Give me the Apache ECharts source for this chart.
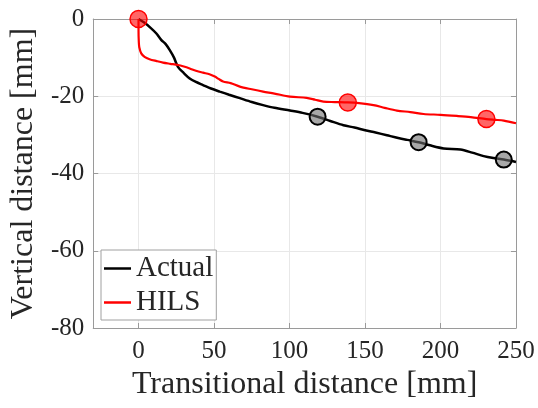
<!DOCTYPE html>
<html>
<head>
<meta charset="utf-8">
<script src="https://cdn.jsdelivr.net/npm/echarts@6/dist/echarts.min.js"></script>
<style>html,body{margin:0;padding:0;background:#fff}#c{width:538px;height:408px}</style>
</head>
<body>
<div id="c"></div>
<script>
var actualX = [0, 4, 8, 11.7, 15, 18, 20.6, 23.5, 26.1, 30, 33.9, 38, 42.7, 48, 53.8, 60, 67.1, 75, 82.5, 90, 100.3, 108.6, 118.6, 127, 135.7, 143, 150.1, 157, 164.5, 172, 178, 185.5, 193, 202.1, 213.2, 221, 228.6, 235, 241.9, 250];
var actualY = [0, -1, -2.3, -3.7, -5.4, -6.5, -8.0, -10, -12.4, -14, -15.4, -16.3, -17.1, -18.0, -18.8, -19.6, -20.5, -21.5, -22.3, -23.0, -23.7, -24.3, -25.3, -26.4, -27.5, -28.1, -28.8, -29.4, -30.1, -30.8, -31.3, -31.9, -32.7, -33.5, -33.8, -34.6, -35.5, -36.0, -36.4, -37.0];
var hilsX = [0, 0, 0.2, 0.5, 1.8, 4, 7.3, 12, 16.2, 21, 26.1, 30, 33.9, 38, 42.7, 47, 50.5, 53, 56, 61, 67.1, 75, 82.5, 90, 100.3, 111.3, 117, 122.4, 130, 138.6, 146, 155.6, 163, 171.1, 180, 188.8, 200, 210.9, 220, 230.4, 236, 241.9, 250];
var hilsY = [0, -3, -6, -7.3, -8.9, -9.8, -10.4, -10.9, -11.3, -11.6, -11.9, -12.3, -12.8, -13.4, -13.9, -14.3, -14.9, -15.5, -16.2, -16.6, -17.5, -18.2, -18.8, -19.3, -20.1, -20.4, -20.9, -21.4, -21.5, -21.6, -21.8, -22.3, -23.0, -23.7, -24.1, -24.6, -24.8, -25.1, -25.4, -25.9, -26.1, -26.3, -27.0];
var actualMarkX = [118.6, 185.5, 241.9];
var actualMarkY = [-25.3, -31.9, -36.4];
var hilsMarkX = [0, 138.6, 230.4];
var hilsMarkY = [0, -21.6, -25.9];
var xTicks = [0, 50, 100, 150, 200, 250];
var yTicks = [-80, -60, -40, -20, 0];
var seriesNames = ['Actual', 'HILS'];
var xTitle = 'Transitional distance [mm]';
var yTitle = 'Vertical distance [mm]';

function zip(a, b) { return a.map(function (v, i) { return [v, b[i]]; }); }

var FONT = 'Liberation Serif';
var TXT = '#262626';
var AX = '#9a9a9a';
var GRID = '#e8e8e8';

var chart = echarts.init(document.getElementById('c'), null, {renderer: 'canvas'});
var option = {
  animation: false,
  grid: {left: 93, right: 22, top: 19, bottom: 80, containLabel: false},
  legend: {
    data: seriesNames,
    orient: 'vertical',
    left: 101, top: 250,
    icon: 'rect', itemWidth: 27, itemHeight: 2.5, itemGap: 5,
    padding: [4, 3, 3, 3],
    borderColor: '#a0a0a0', borderWidth: 1, backgroundColor: '#fff',
    textStyle: {fontFamily: FONT, fontSize: 29, color: TXT}
  },
  xAxis: [{
    type: 'value', min: -30, max: 250,
    name: xTitle, nameLocation: 'middle', nameGap: 41,
    nameTextStyle: {fontFamily: FONT, fontSize: 32, color: TXT},
    axisLine: {show: true, onZero: false, lineStyle: {color: AX, width: 1}},
    axisTick: {show: true, inside: true, length: 5, customValues: xTicks, lineStyle: {color: AX}},
    axisLabel: {customValues: xTicks, fontFamily: FONT, fontSize: 25, color: TXT, margin: 11},
    splitLine: {show: true, lineStyle: {color: GRID, width: 1}}
  }, {
    type: 'value', min: -30, max: 250, position: 'top',
    axisLine: {show: true, onZero: false, lineStyle: {color: AX, width: 1}},
    axisTick: {show: true, inside: true, length: 5, customValues: xTicks, lineStyle: {color: AX}},
    axisLabel: {show: false}, splitLine: {show: false}
  }],
  yAxis: [{
    type: 'value', min: -80, max: 0, interval: 20,
    name: yTitle, nameLocation: 'middle', nameGap: 52, nameRotate: 90,
    nameTextStyle: {fontFamily: FONT, fontSize: 32, color: TXT},
    axisLine: {show: true, onZero: false, lineStyle: {color: AX, width: 1}},
    axisTick: {show: true, inside: true, length: 5, lineStyle: {color: AX}},
    axisLabel: {fontFamily: FONT, fontSize: 25, color: TXT, margin: 9},
    splitLine: {show: true, lineStyle: {color: GRID, width: 1}}
  }, {
    type: 'value', min: -80, max: 0, interval: 20, position: 'right',
    axisLine: {show: true, onZero: false, lineStyle: {color: AX, width: 1}},
    axisTick: {show: true, inside: true, length: 5, lineStyle: {color: AX}},
    axisLabel: {show: false}, splitLine: {show: false}
  }],
  series: [{
    name: seriesNames[0], type: 'line', data: zip(actualX, actualY),
    showSymbol: false, symbol: 'none', smooth: 0.3,
    lineStyle: {color: '#000', width: 2.5}, itemStyle: {color: '#000'}, z: 2
  }, {
    name: seriesNames[1], type: 'line', data: zip(hilsX, hilsY),
    showSymbol: false, symbol: 'none', smooth: 0.3,
    lineStyle: {color: '#ff0000', width: 2.2}, itemStyle: {color: '#ff0000'}, z: 3
  }, {
    name: 'actualMarkers', type: 'scatter', data: zip(actualMarkX, actualMarkY),
    symbol: 'circle', symbolSize: 16,
    itemStyle: {color: 'rgba(110,110,110,0.6)', borderColor: '#000', borderWidth: 2, opacity: 1}, z: 4
  }, {
    name: 'hilsMarkers', type: 'scatter', data: zip(hilsMarkX, hilsMarkY),
    symbol: 'circle', symbolSize: 17,
    itemStyle: {color: 'rgba(255,0,0,0.6)', borderColor: '#ff0000', borderWidth: 1.5, opacity: 1}, z: 5
  }]
};
chart.setOption(option);
</script>
</body>
</html>
